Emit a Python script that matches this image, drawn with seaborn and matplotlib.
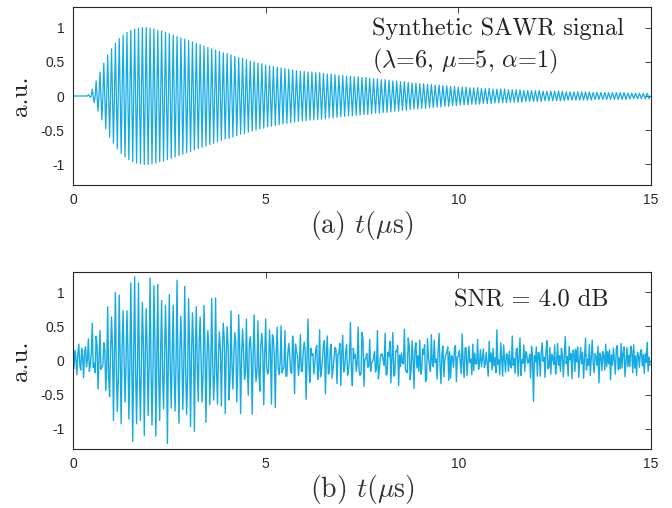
import numpy as np
import pandas as pd
import matplotlib
matplotlib.use("Agg")
import matplotlib.pyplot as plt
import seaborn as sns

# sampling step (us): four samples per cycle of the 10 MHz carrier
dt = 0.025

# crest amplitude of each carrier cycle, one row per microsecond
peaks = np.array([
    0, 0, 0, 0, 0.02, 0.10, 0.22, 0.35, 0.48, 0.60,
    0.69, 0.77, 0.84, 0.89, 0.93, 0.96, 0.98, 0.99, 1.00, 1.00,
    0.99, 0.98, 0.96, 0.95, 0.93, 0.91, 0.89, 0.87, 0.85, 0.83,
    0.81, 0.79, 0.77, 0.75, 0.73, 0.71, 0.69, 0.67, 0.65, 0.63,
    0.62, 0.60, 0.58, 0.56, 0.55, 0.53, 0.51, 0.50, 0.48, 0.47,
    0.45, 0.44, 0.43, 0.42, 0.41, 0.40, 0.39, 0.38, 0.37, 0.36,
    0.36, 0.35, 0.35, 0.34, 0.34, 0.33, 0.32, 0.32, 0.31, 0.30,
    0.30, 0.29, 0.29, 0.28, 0.28, 0.27, 0.27, 0.26, 0.25, 0.25,
    0.24, 0.24, 0.23, 0.22, 0.22, 0.21, 0.21, 0.20, 0.19, 0.19,
    0.18, 0.18, 0.17, 0.17, 0.16, 0.16, 0.15, 0.15, 0.14, 0.14,
    0.13, 0.13, 0.13, 0.12, 0.12, 0.12, 0.11, 0.11, 0.11, 0.10,
    0.10, 0.10, 0.10, 0.09, 0.09, 0.09, 0.09, 0.08, 0.08, 0.08,
    0.08, 0.08, 0.07, 0.07, 0.07, 0.07, 0.07, 0.07, 0.06, 0.06,
    0.06, 0.06, 0.06, 0.06, 0.06, 0.05, 0.05, 0.05, 0.05, 0.05,
    0.05, 0.05, 0.05, 0.05, 0.04, 0.04, 0.04, 0.04, 0.04, 0.04,
])

# noise on each sample of panel b, one row per microsecond
noise = np.array([
    0.08, -0.12, 0.15, 0.03, -0.21, 0.10, 0.24, -0.06, -0.14, 0.18, 0.05, -0.25, 0.12, 0.20, -0.09, 0.02, 0.30, -0.16, -0.04, 0.11,
    0.45, -0.10, 0.06, -0.18, 0.14, 0.22, -0.20, 0.01, 0.09, -0.13, 0.26, -0.07, -0.22, 0.16, 0.04, -0.11, 0.19, -0.24, 0.07, 0.13,
    -0.05, 0.17, -0.19, 0.09, 0.23, -0.14, 0.02, -0.27, 0.12, 0.06, -0.09, 0.21, -0.16, 0.03, 0.28, -0.08, -0.20, 0.14, 0.07, -0.12,
    0.18, -0.03, -0.23, 0.10, 0.25, -0.17, 0.05, -0.06, 0.15, -0.21, 0.11, 0.01, -0.15, 0.27, -0.10, 0.08, -0.24, 0.13, 0.19, -0.07,
    0.22, -0.11, 0.04, -0.18, 0.12, 0.29, -0.13, -0.02, 0.16, -0.26, 0.08, 0.14, -0.07, -0.19, 0.24, 0.03, -0.12, 0.17, -0.29, 0.09,
    0.06, -0.15, 0.21, 0.11, -0.08, -0.23, 0.15, 0.02, 0.31, -0.14, -0.05, 0.18, -0.20, 0.07, 0.13, -0.10, 0.26, -0.17, 0.04, -0.22,
    0.10, 0.19, -0.16, 0.05, -0.09, 0.23, -0.25, 0.12, 0.02, -0.13, 0.17, 0.28, -0.11, -0.04, 0.14, -0.21, 0.08, 0.20, -0.18, 0.01,
    -0.27, 0.15, 0.06, -0.10, 0.22, -0.05, 0.11, -0.19, 0.25, -0.14, 0.03, 0.09, -0.23, 0.16, -0.02, 0.13, -0.08, 0.30, -0.15, 0.07,
    -0.12, 0.21, 0.04, -0.24, 0.13, -0.06, 0.18, 0.09, -0.17, 0.26, -0.03, -0.14, 0.11, 0.20, -0.22, 0.05, -0.09, 0.15, 0.27, -0.19,
    0.08, -0.11, 0.02, 0.24, -0.16, 0.12, -0.28, 0.06, 0.17, -0.04, 0.19, -0.13, 0.10, -0.21, 0.03, 0.23, -0.07, 0.14, -0.18, 0.09,
    0.16, -0.08, 0.25, -0.15, 0.01, 0.12, -0.20, 0.38, -0.10, 0.05, -0.26, 0.14, 0.07, -0.12, 0.21, -0.03, 0.10, -0.18, 0.28, -0.09,
    0.04, -0.23, 0.17, 0.11, -0.14, 0.06, 0.22, -0.19, -0.02, 0.13, -0.11, 0.24, -0.25, 0.08, 0.15, -0.06, 0.02, -0.16, 0.20, 0.12,
    -0.09, 0.14, -0.21, 0.07, 0.26, -0.12, 0.03, 0.18, -0.27, 0.10, 0.15, -0.05, -0.18, 0.22, 0.06, -0.14, 0.11, -0.24, 0.19, 0.02,
    -0.10, 0.29, -0.16, 0.08, 0.04, -0.20, 0.13, 0.17, -0.08, -0.26, 0.21, 0.05, -0.12, 0.16, -0.03, 0.09, -0.19, 0.25, -0.07, 0.12,
    0.07, -0.17, 0.20, 0.11, -0.06, -0.22, 0.15, 0.03, 0.27, -0.13, -0.08, 0.18, -0.25, 0.09, 0.12, -0.04, 0.21, -0.15, 0.06, -0.19,
    0.14, 0.32, -0.11, 0.02, -0.24, 0.10, 0.17, -0.09, 0.05, -0.16, 0.23, -0.02, -0.20, 0.13, 0.08, -0.12, 0.19, -0.27, 0.11, 0.04,
    -0.14, 0.09, 0.24, -0.07, 0.16, -0.21, 0.03, 0.12, -0.17, 0.28, -0.10, 0.06, 0.19, -0.23, 0.01, 0.14, -0.09, 0.22, -0.15, 0.08,
    -0.30, 0.11, 0.17, -0.05, 0.25, -0.12, 0.04, -0.18, 0.13, 0.21, -0.08, -0.14, 0.10, 0.02, -0.22, 0.18, 0.07, -0.11, 0.26, -0.16,
    0.12, -0.20, 0.05, 0.17, -0.09, 0.23, -0.13, -0.28, 0.15, 0.04, 0.10, -0.16, 0.21, -0.06, 0.08, 0.30, -0.19, 0.02, -0.11, 0.14,
    0.24, -0.08, -0.18, 0.11, 0.06, -0.24, 0.16, 0.09, -0.03, 0.20, -0.14, 0.13, -0.40, 0.07, 0.18, -0.10, 0.03, 0.22, -0.17, 0.05,
    -0.07, 0.15, 0.10, -0.19, 0.26, -0.04, -0.12, 0.18, 0.06, -0.22, 0.13, 0.21, -0.15, 0.02, -0.09, 0.24, -0.27, 0.11, 0.07, -0.05,
    0.19, -0.13, 0.09, 0.16, -0.20, 0.03, 0.28, -0.10, -0.16, 0.12, 0.05, -0.23, 0.17, -0.02, 0.22, -0.14, 0.08, -0.08, 0.14, -0.18,
    0.35, -0.06, 0.11, -0.21, 0.16, 0.04, -0.13, 0.23, -0.09, -0.17, 0.20, 0.08, -0.25, 0.14, 0.01, -0.11, 0.27, -0.07, 0.12, -0.19,
    0.06, 0.18, -0.14, 0.03, 0.24, -0.22, 0.10, -0.04, 0.15, -0.16, 0.21, 0.09, -0.12, -0.02, 0.17, -0.26, 0.13, 0.05, -0.52, 0.07,
    -0.10, 0.20, -0.15, 0.12, 0.03, -0.23, 0.17, 0.26, -0.08, 0.05, -0.18, 0.14, 0.22, -0.12, -0.03, 0.19, -0.27, 0.09, 0.11, -0.06,
    0.16, -0.20, 0.04, 0.25, -0.14, 0.07, -0.09, 0.18, 0.02, -0.24, 0.13, 0.35, -0.11, 0.06, -0.17, 0.21, -0.05, 0.10, -0.21, 0.15,
    0.09, -0.16, 0.23, -0.02, 0.14, -0.25, 0.06, 0.19, -0.11, 0.12, -0.20, 0.03, 0.27, -0.14, 0.08, -0.07, 0.17, -0.22, 0.10, 0.30,
    -0.09, -0.18, 0.15, 0.05, -0.12, 0.21, -0.28, 0.11, 0.02, -0.15, 0.18, 0.07, -0.19, 0.24, -0.04, 0.13, -0.10, 0.16, -0.23, 0.08,
    -0.12, 0.18, 0.06, -0.20, 0.13, 0.22, -0.09, 0.04, -0.17, 0.25, -0.06, 0.11, 0.15, -0.24, 0.02, 0.19, -0.13, 0.08, -0.05, 0.21,
    0.10, -0.18, 0.27, -0.11, 0.03, -0.22, 0.16, 0.07, -0.14, 0.12, 0.20, -0.08, 0.05, -0.19, 0.14, -0.03, 0.23, -0.16, 0.09, -0.07,
])

xticks = [0, 5, 10, 15]
yticks = [-1, -0.5, 0, 0.5, 1]
ytick_labels = ["-1", "-0.5", "0", "0.5", "1"]

# crest, zero, trough, zero for every cycle -> clean signal; plus noise -> panel b
zeros = np.zeros_like(peaks)
clean = np.column_stack([peaks, zeros, -peaks, zeros]).ravel()
t = np.arange(len(clean)) * dt
df = pd.DataFrame({"t": t, "clean": clean, "noisy": clean + noise})

sns.set_theme(style="white")
plt.rcParams["mathtext.fontset"] = "cm"
plt.rcParams["font.family"] = ["Liberation Sans", "DejaVu Sans"]

color = "#14AAE4"
axc = "#262626"
serif = "cmr10"

fig = plt.figure(figsize=(6.72, 5.08), dpi=100)
ax1 = fig.add_axes([73 / 672, 1 - 185 / 508, 578 / 672, 178 / 508])
ax2 = fig.add_axes([73 / 672, 1 - 449 / 508, 578 / 672, 177 / 508])

sns.lineplot(data=df, x="t", y="clean", ax=ax1, color=color, linewidth=0.9,
             estimator=None, sort=False)
sns.lineplot(data=df, x="t", y="noisy", ax=ax2, color=color, linewidth=1.0,
             estimator=None, sort=False)

for ax, lab in [(ax1, r"(a) $t$($\mu$s)"), (ax2, r"(b) $t$($\mu$s)")]:
    ax.set_xlim(0, 15)
    ax.set_ylim(-1.3, 1.3)
    ax.set_xticks(xticks)
    ax.set_yticks(yticks)
    ax.set_yticklabels(ytick_labels)
    ax.tick_params(direction="in", length=4.5, width=0.6, colors=axc,
                   labelsize=10, top=True, right=True, pad=6)
    for s in ax.spines.values():
        s.set_color(axc)
        s.set_linewidth(0.8)
    ax.set_xlabel(lab, fontsize=20, family=serif, color="#333333", labelpad=1)
    ax.set_ylabel("a.u.", fontsize=18, family=serif, color="#222222", labelpad=6)

ax1.text(0.518, 0.88, "Synthetic SAWR signal", transform=ax1.transAxes,
         ha="left", va="center", fontsize=17.5, family=serif, color="#222222")
ax1.text(0.518, 0.695, r"($\lambda$=6, $\mu$=5, $\alpha$=1)", transform=ax1.transAxes,
         ha="left", va="center", fontsize=17.5, family=serif, color="#222222")
ax2.text(0.659, 0.84, "SNR = 4.0 dB", transform=ax2.transAxes,
         ha="left", va="center", fontsize=17.5, family=serif, color="#222222")

fig.savefig("out.png", dpi=100)
